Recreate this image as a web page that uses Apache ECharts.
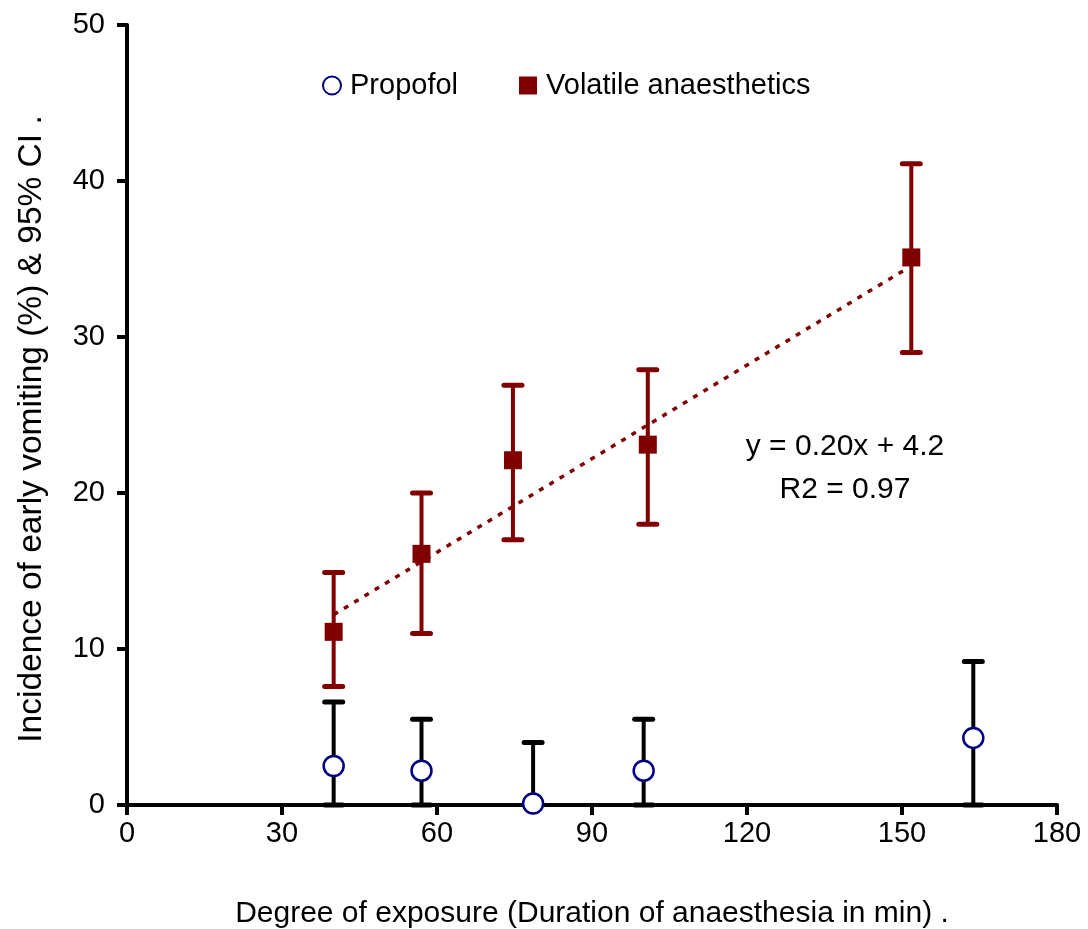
<!DOCTYPE html>
<html>
<head>
<meta charset="utf-8">
<script src="https://cdn.jsdelivr.net/npm/echarts@6/dist/echarts.min.js"></script>
<style>
html,body{margin:0;padding:0;background:#fff;}
#chart{width:1088px;height:929px;}
</style>
</head>
<body>
<div id="chart"></div>
<script>
// ---- Data ----
const xTicks = [0, 30, 60, 90, 120, 150, 180];
const yTicks = [0, 10, 20, 30, 40, 50];

const volX    = [40, 57, 74.7, 100.8, 151.8];
const volY    = [11.1, 16.1, 22.1, 23.1, 35.1];
const volLow  = [7.6, 11.0, 17.0, 18.0, 29.0];
const volHigh = [14.9, 20.0, 26.9, 27.9, 41.1];

const propX    = [40, 57, 78.6, 100.0, 163.8];
const propY    = [2.5, 2.2, 0.1, 2.2, 4.3];
const propLow  = [0, 0, 0, 0, 0];
const propHigh = [6.6, 5.5, 4.0, 5.5, 9.2];

const trendX = [40, 151];
const trendY = [12.2, 34.4];

const eqText = ['y = 0.20x + 4.2', 'R2 = 0.97'];

// ---- Build ----
const FONT = 'Liberation Sans';
const RED = '#800000';
const NAVY = '#000080';

function zip(a, b) { return a.map((v, i) => [v, b[i]]); }
function zip3(a, b, c) { return a.map((v, i) => [v, b[i], c[i]]); }

function errRender(color) {
  return function (params, api) {
    const x = api.value(0), lo = api.value(1), hi = api.value(2);
    const pLo = api.coord([x, lo]);
    const pHi = api.coord([x, hi]);
    const hw = 9;
    return {
      type: 'group',
      children: [
        {type: 'line', shape: {x1: pLo[0], y1: pLo[1], x2: pHi[0], y2: pHi[1]},
         style: {stroke: color, lineWidth: 4}},
        {type: 'line', shape: {x1: pHi[0] - hw, y1: pHi[1], x2: pHi[0] + hw, y2: pHi[1]},
         style: {stroke: color, lineWidth: 5, lineCap: 'round'}},
        {type: 'line', shape: {x1: pLo[0] - hw, y1: pLo[1], x2: pLo[0] + hw, y2: pLo[1]},
         style: {stroke: color, lineWidth: 5, lineCap: 'round'}}
      ]
    };
  };
}

const chart = echarts.init(document.getElementById('chart'), null, {renderer: 'canvas'});

const axisCommon = {
  axisLine: {show: true, lineStyle: {color: '#000', width: 4}},
  axisTick: {show: true, inside: false, length: 10, lineStyle: {color: '#000', width: 4}},
  splitLine: {show: false},
  axisLabel: {color: '#000', fontFamily: FONT, fontSize: 29}
};

chart.setOption({
  animation: false,
  backgroundColor: '#fff',
  textStyle: {fontFamily: FONT},
  grid: {left: 127, right: 31, top: 25, bottom: 124, containLabel: false, outerBoundsMode: 'none'},
  xAxis: Object.assign({}, axisCommon, {
    type: 'value', min: xTicks[0], max: xTicks[xTicks.length - 1], interval: 30,
    name: 'Degree of exposure (Duration of anaesthesia in min) .',
    nameLocation: 'middle', nameGap: 94,
    nameTextStyle: {color: '#000', fontFamily: FONT, fontSize: 30},
    axisLabel: Object.assign({}, axisCommon.axisLabel, {margin: 14})
  }),
  yAxis: Object.assign({}, axisCommon, {
    type: 'value', min: yTicks[0], max: yTicks[yTicks.length - 1], interval: 10,
    name: 'Incidence of early vomiting (%) & 95% CI .',
    nameLocation: 'middle', nameGap: 78,
    nameTextStyle: {color: '#000', fontFamily: FONT, fontSize: 33.5, padding: [0, 28, 0, 0]},
    axisLabel: Object.assign({}, axisCommon.axisLabel, {margin: 22})
  }),
  legend: {
    data: [{name: 'Propofol', icon: 'circle'}, {name: 'Volatile anaesthetics', icon: 'rect'}],
    left: 317, top: 66, itemWidth: 18, itemHeight: 18, itemGap: 61,
    textStyle: {color: '#000', fontFamily: FONT, fontSize: 29, padding: [0, 0, 0, 4]},
    selectedMode: false
  },
  graphic: [
    {type: 'text', x: 845, y: 447, style: {text: eqText[0], fill: '#000', font: '30px ' + FONT, textAlign: 'center', textVerticalAlign: 'middle'}},
    {type: 'text', x: 845, y: 490, style: {text: eqText[1], fill: '#000', font: '30px ' + FONT, textAlign: 'center', textVerticalAlign: 'middle'}}
  ],
  series: [
    {
      name: 'trend', type: 'line', data: zip(trendX, trendY), symbol: 'none',
      lineStyle: {color: RED, width: 3.5, type: [5, 7]}, z: 1, silent: true
    },
    {
      name: 'volErr', type: 'custom', renderItem: errRender(RED),
      data: zip3(volX, volLow, volHigh), z: 2, silent: true
    },
    {
      name: 'propErr', type: 'custom', renderItem: errRender('#000'),
      data: zip3(propX, propLow, propHigh), z: 2, silent: true
    },
    {
      name: 'Volatile anaesthetics', type: 'scatter', data: zip(volX, volY),
      symbol: 'rect', symbolSize: 18, itemStyle: {color: RED, opacity: 1}, z: 4
    },
    {
      name: 'Propofol', type: 'scatter', data: zip(propX, propY),
      symbol: 'circle', symbolSize: 20,
      itemStyle: {color: '#fff', borderColor: NAVY, borderWidth: 2.5, opacity: 1}, z: 4
    }
  ]
});
</script>
</body>
</html>
